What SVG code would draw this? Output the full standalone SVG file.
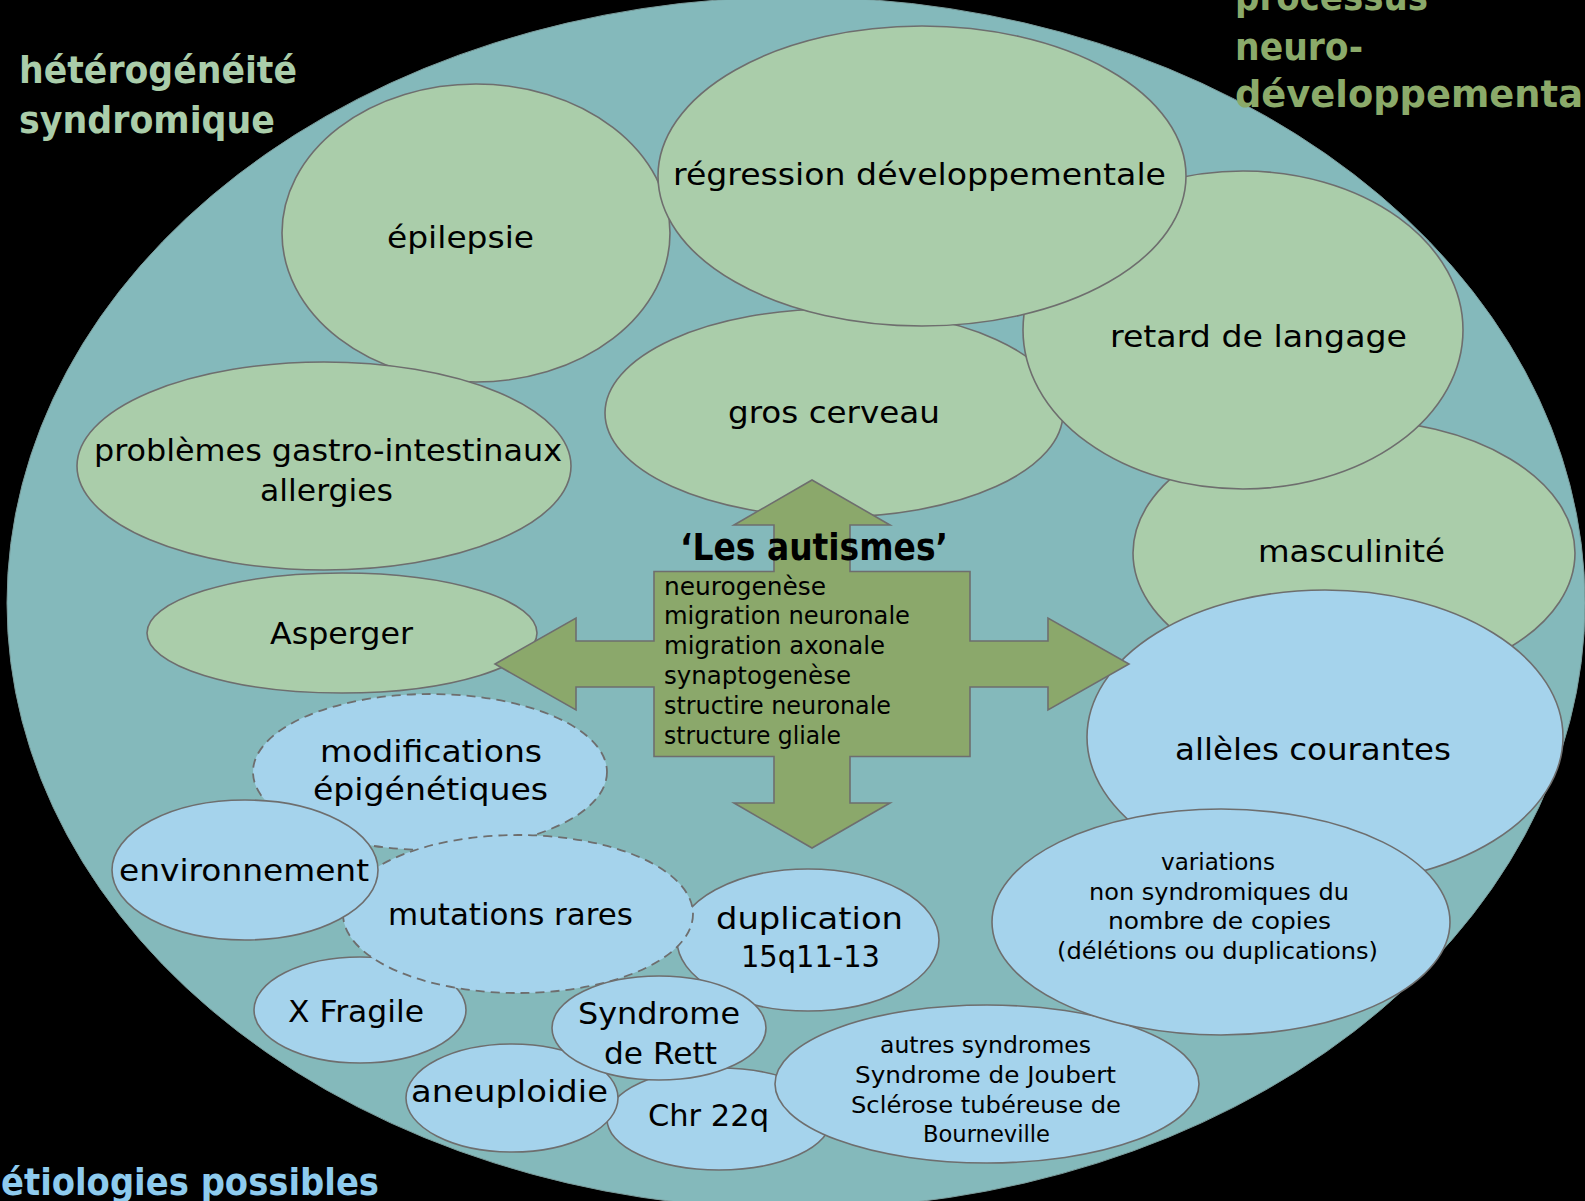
<svg xmlns="http://www.w3.org/2000/svg" width="1585" height="1201" viewBox="0 0 1585 1201">
<style>
.g{fill:#aacdaa;stroke:#6e6e6e;stroke-width:1.6}
.b{fill:#a5d3ec;stroke:#6e6e6e;stroke-width:1.6}
.d{fill:#a5d3ec;stroke:#6e6e6e;stroke-width:1.8;stroke-dasharray:9 6}
text{font-family:"DejaVu Sans","Liberation Sans",sans-serif;fill:#000}
.l{font-size:30px}
.s{font-size:23px}
.c{font-size:25px}
.t{font-size:38px;font-weight:bold}
</style>
<rect x="0" y="0" width="1585" height="1201" fill="#000"/>
<g id="frame">
<ellipse cx="796" cy="603" rx="789" ry="606" fill="#84b9bb" stroke="#7a9c9c" stroke-width="1"/>
</g>
<g id="titles">
<text class="t" x="19" y="83" textLength="278" lengthAdjust="spacingAndGlyphs" style="fill:#aacdaa">hétérogénéité</text>
<text class="t" x="19" y="133" textLength="256" lengthAdjust="spacingAndGlyphs" style="fill:#aacdaa">syndromique</text>
<text class="t" x="1235" y="10" textLength="193" lengthAdjust="spacingAndGlyphs" style="fill:#8baa6a">processus</text>
<text class="t" x="1235" y="60" textLength="128" lengthAdjust="spacingAndGlyphs" style="fill:#8baa6a">neuro-</text>
<text class="t" x="1235" y="107" textLength="348" lengthAdjust="spacingAndGlyphs" style="fill:#8baa6a">développementa</text>
<text class="t" x="1" y="1195" textLength="378" lengthAdjust="spacingAndGlyphs" style="fill:#8ecbee">étiologies possibles</text>
</g>
<g id="gros-cerveau"><ellipse class="g" cx="834" cy="413" rx="229" ry="104"/>
<text class="l" x="728" y="423" textLength="212" lengthAdjust="spacingAndGlyphs">gros cerveau</text></g>
<g id="masculinite"><ellipse class="g" cx="1354" cy="553" rx="221" ry="133"/>
<text class="l" x="1258" y="562" textLength="187" lengthAdjust="spacingAndGlyphs">masculinité</text></g>
<g id="retard"><ellipse class="g" cx="1243" cy="330" rx="220" ry="159"/>
<text class="l" x="1110" y="347" textLength="297" lengthAdjust="spacingAndGlyphs">retard de langage</text></g>
<g id="epilepsie"><ellipse class="g" cx="476" cy="233" rx="194" ry="149"/>
<text class="l" x="387" y="248" textLength="147" lengthAdjust="spacingAndGlyphs">épilepsie</text></g>
<g id="regression"><ellipse class="g" cx="922" cy="176" rx="264" ry="150"/>
<text class="l" x="673" y="185" textLength="493" lengthAdjust="spacingAndGlyphs">régression développementale</text></g>
<g id="gastro"><ellipse class="g" cx="324" cy="466" rx="247" ry="104"/>
<text class="l" x="94" y="461" textLength="468" lengthAdjust="spacingAndGlyphs">problèmes gastro-intestinaux</text>
<text class="l" x="260" y="501" textLength="133" lengthAdjust="spacingAndGlyphs">allergies</text></g>
<g id="asperger"><ellipse class="g" cx="342" cy="633" rx="195" ry="60"/>
<text class="l" x="270" y="644" textLength="143" lengthAdjust="spacingAndGlyphs">Asperger</text></g>
<g id="modifications"><ellipse class="d" cx="430" cy="772" rx="177" ry="78"/>
<text class="l" x="320" y="762" textLength="222" lengthAdjust="spacingAndGlyphs">modifications</text>
<text class="l" x="313" y="800" textLength="235" lengthAdjust="spacingAndGlyphs">épigénétiques</text></g>
<g id="x-fragile"><ellipse class="b" cx="360" cy="1010" rx="106" ry="53"/>
<text class="l" x="288" y="1022" textLength="136" lengthAdjust="spacingAndGlyphs">X Fragile</text></g>
<g id="duplication"><ellipse class="b" cx="808" cy="940" rx="131" ry="71"/>
<text class="l" x="716" y="929" textLength="187" lengthAdjust="spacingAndGlyphs">duplication</text>
<text class="l" x="741" y="967" textLength="139" lengthAdjust="spacingAndGlyphs">15q11-13</text></g>
<g id="mutations"><ellipse class="d" cx="518" cy="914" rx="175" ry="79"/>
<text class="l" x="388" y="925" textLength="245" lengthAdjust="spacingAndGlyphs">mutations rares</text></g>
<g id="environnement"><ellipse class="b" cx="245" cy="870" rx="133" ry="70"/>
<text class="l" x="119" y="881" textLength="250" lengthAdjust="spacingAndGlyphs">environnement</text></g>
<g id="chr22q"><ellipse class="b" cx="719" cy="1119" rx="112" ry="51"/>
<text class="l" x="648" y="1126" textLength="121" lengthAdjust="spacingAndGlyphs">Chr 22q</text></g>
<g id="aneuploidie"><ellipse class="b" cx="512" cy="1098" rx="106" ry="54"/>
<text class="l" x="411" y="1102" textLength="197" lengthAdjust="spacingAndGlyphs">aneuploidie</text></g>
<g id="rett"><ellipse class="b" cx="659" cy="1028" rx="107" ry="52"/>
<text class="l" x="578" y="1024" textLength="162" lengthAdjust="spacingAndGlyphs">Syndrome</text>
<text class="l" x="604" y="1064" textLength="113" lengthAdjust="spacingAndGlyphs">de Rett</text></g>
<g id="autres"><ellipse class="b" cx="987" cy="1084" rx="212" ry="79"/>
<text class="s" x="880" y="1053" textLength="211" lengthAdjust="spacingAndGlyphs">autres syndromes</text>
<text class="s" x="855" y="1083" textLength="261" lengthAdjust="spacingAndGlyphs">Syndrome de Joubert</text>
<text class="s" x="851" y="1113" textLength="270" lengthAdjust="spacingAndGlyphs">Sclérose tubéreuse de</text>
<text class="s" x="923" y="1142" textLength="127" lengthAdjust="spacingAndGlyphs">Bourneville</text></g>
<g id="alleles"><ellipse class="b" cx="1325" cy="737" rx="238" ry="147"/>
<text class="l" x="1175" y="760" textLength="276" lengthAdjust="spacingAndGlyphs">allèles courantes</text></g>
<g id="variations"><ellipse class="b" cx="1221" cy="922" rx="229" ry="113"/>
<text class="s" x="1161" y="870" textLength="114" lengthAdjust="spacingAndGlyphs">variations</text>
<text class="s" x="1089" y="900" textLength="260" lengthAdjust="spacingAndGlyphs">non syndromiques du</text>
<text class="s" x="1108" y="929" textLength="223" lengthAdjust="spacingAndGlyphs">nombre de copies</text>
<text class="s" x="1057" y="959" textLength="321" lengthAdjust="spacingAndGlyphs">(délétions ou duplications)</text></g>
<g id="connectors"></g>
<g id="les-autismes">
<polygon fill="#8ba86b" stroke="#6e6e6e" stroke-width="1.6" points="812,480 890,525 850,525 850,571.5 970,571.5 970,641 1048,641 1048,618 1129,664 1048,710 1048,687 970,687 970,756.5 850,756.5 850,803 890,803 812,848 734,803 774,803 774,756.5 654,756.5 654,687 576,687 576,710 495,664 576,618 576,641 654,641 654,571.5 774,571.5 774,525 734,525"/>
<text x="680" y="560" textLength="268" lengthAdjust="spacingAndGlyphs" style="font-size:38px;font-weight:bold">‘Les autismes’</text>
<text class="c" x="664" y="595" textLength="162" lengthAdjust="spacingAndGlyphs">neurogenèse</text>
<text class="c" x="664" y="624" textLength="246" lengthAdjust="spacingAndGlyphs">migration neuronale</text>
<text class="c" x="664" y="654" textLength="221" lengthAdjust="spacingAndGlyphs">migration axonale</text>
<text class="c" x="664" y="684" textLength="187" lengthAdjust="spacingAndGlyphs">synaptogenèse</text>
<text class="c" x="664" y="714" textLength="227" lengthAdjust="spacingAndGlyphs">structire neuronale</text>
<text class="c" x="664" y="744" textLength="177" lengthAdjust="spacingAndGlyphs">structure gliale</text>
</g>
</svg>
